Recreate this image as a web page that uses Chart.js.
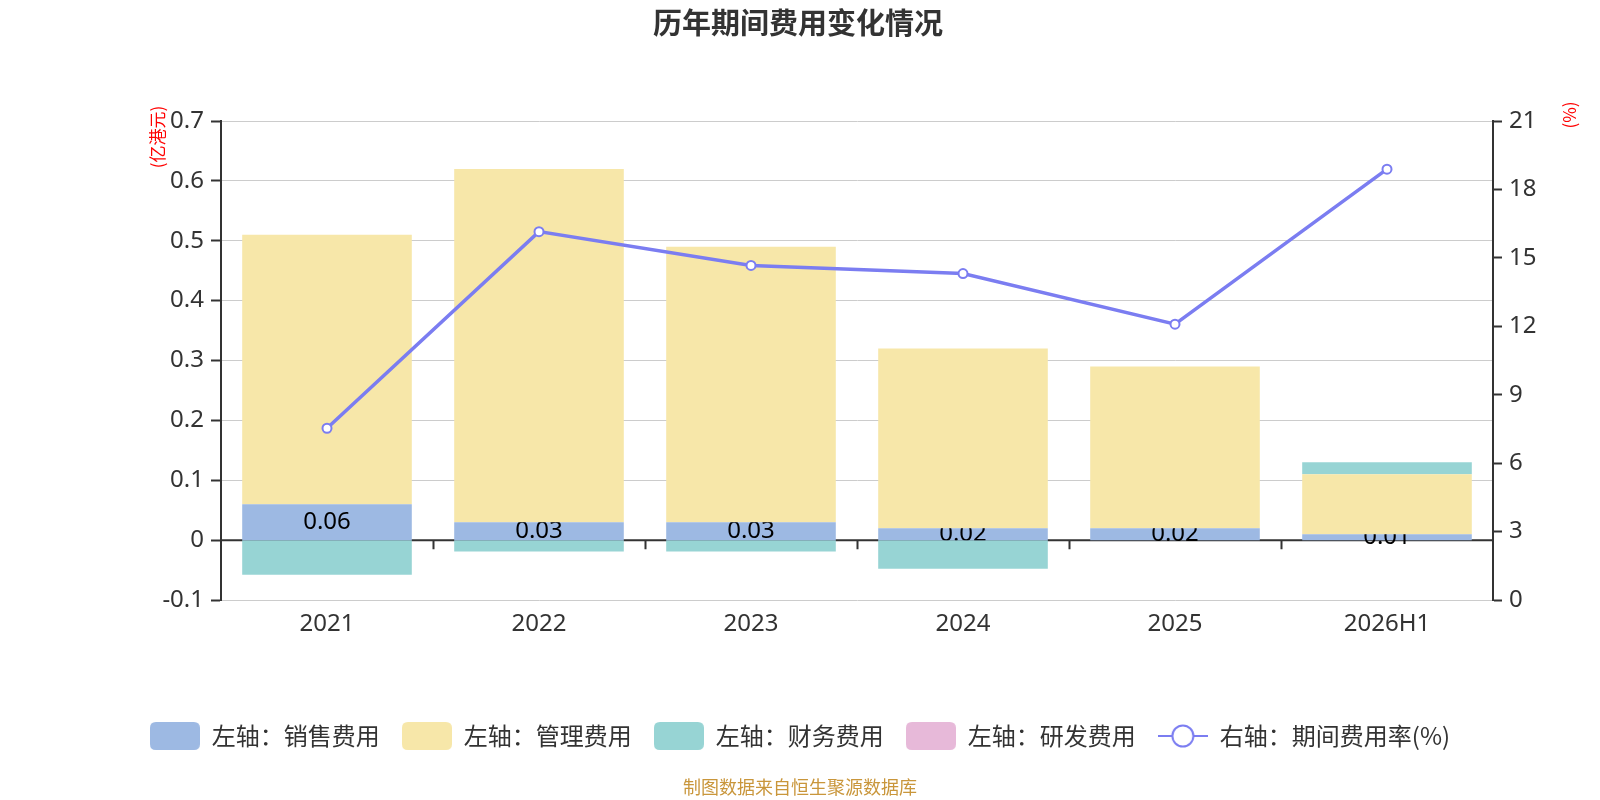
<!DOCTYPE html>
<html>
<head>
<meta charset="utf-8">
<script src="https://cdn.jsdelivr.net/npm/chart.js@4"></script>
<style>
  html, body { margin: 0; padding: 0; background: #fff; }
  #wrap { width: 1600px; height: 800px; position: relative; }
</style>
</head>
<body>
<div id="wrap"><canvas id="c" width="1600" height="800"></canvas></div>
<script>
// ---- data ----
const categories = ['2021', '2022', '2023', '2024', '2025', '2026H1'];
const salesExp   = [0.06, 0.03, 0.03, 0.02, 0.02, 0.01];
const adminExp   = [0.45, 0.59, 0.46, 0.30, 0.27, 0.10];
const financeExp = [-0.058, -0.019, -0.019, -0.048, 0, 0.02];
const rdExp      = [0, 0, 0, 0, 0, 0];
const expenseRate = [7.53, 16.15, 14.67, 14.31, 12.09, 18.89];
const seriesNames = ['左轴：销售费用', '左轴：管理费用', '左轴：财务费用', '左轴：研发费用', '右轴：期间费用率(%)'];
const leftAxisRange = [-0.1, 0.7, 0.1];
const rightAxisRange = [0, 21, 3];
const titleText = '历年期间费用变化情况';
const leftUnit = '(亿港元)';
const rightUnit = '(%)';
const footerText = '制图数据来自恒生聚源数据库';

// ---- styles ----
const COLORS = ['#9db9e3', '#f7e7a9', '#97d4d4', '#e7b9d9'];
const LINE_COLOR = '#7b7df1';
const FONT = '"Noto Sans", "Noto Sans CJK SC", sans-serif';
const CJK = '"Noto Sans CJK SC", "Noto Sans", sans-serif';

function boxImage(color) {
  const c = document.createElement('canvas');
  c.width = 50; c.height = 28;
  const x = c.getContext('2d');
  x.fillStyle = color;
  const r = 6;
  x.beginPath();
  x.moveTo(r, 0); x.lineTo(50 - r, 0); x.quadraticCurveTo(50, 0, 50, r);
  x.lineTo(50, 28 - r); x.quadraticCurveTo(50, 28, 50 - r, 28);
  x.lineTo(r, 28); x.quadraticCurveTo(0, 28, 0, 28 - r);
  x.lineTo(0, r); x.quadraticCurveTo(0, 0, r, 0);
  x.fill();
  return c;
}
function lineImage(color) {
  const c = document.createElement('canvas');
  c.width = 50; c.height = 28;
  const x = c.getContext('2d');
  x.strokeStyle = color; x.lineWidth = 2;
  x.beginPath(); x.moveTo(0, 14); x.lineTo(50, 14); x.stroke();
  x.fillStyle = '#fff';
  x.beginPath(); x.arc(25, 14, 10.5, 0, Math.PI * 2); x.fill(); x.stroke();
  return c;
}
const legendImages = [boxImage(COLORS[0]), boxImage(COLORS[1]), boxImage(COLORS[2]), boxImage(COLORS[3]), lineImage(LINE_COLOR)];

const barDs = (label, data, color) => ({
  type: 'bar', label, data, backgroundColor: color, borderWidth: 0,
  yAxisID: 'y', stack: 's', categoryPercentage: 0.8, barPercentage: 1.0
});

const decorPlugin = {
  id: 'decor',
  beforeDatasetsDraw(chart) {
    const {ctx, chartArea: a, scales: {y}} = chart;
    const zy = y.getPixelForValue(0);
    ctx.save();
    ctx.strokeStyle = '#333';
    ctx.lineWidth = 2;
    ctx.beginPath();
    ctx.moveTo(a.left, zy); ctx.lineTo(a.right, zy);
    const step = a.width / categories.length;
    for (let k = 1; k < categories.length; k++) {
      const px = Math.round(a.left + k * step) + 0.5;
      ctx.moveTo(px, zy); ctx.lineTo(px, zy + 9);
    }
    ctx.stroke();
    ctx.restore();
  },
  afterDatasetDraw(chart, args) {
    if (args.index !== 0) return;
    const {ctx, chartArea: a, scales: {y}} = chart;
    const zy = y.getPixelForValue(0);
    const meta = chart.getDatasetMeta(0);
    meta.data.forEach((bar, i) => {
      const top = Math.min(bar.y, bar.base);
      const bottom = financeExp[i] < 0 ? zy : a.bottom;
      const cy = (bar.y + bar.base) / 2;
      ctx.save();
      ctx.beginPath();
      ctx.rect(a.left, top, a.width, bottom - top);
      ctx.clip();
      ctx.fillStyle = '#000';
      ctx.font = '24px ' + FONT;
      ctx.textAlign = 'center';
      ctx.textBaseline = 'middle';
      ctx.fillText(salesExp[i].toFixed(2), bar.x, cy);
      ctx.restore();
    });
  },
  afterDraw(chart) {
    const {ctx} = chart;
    ctx.save();
    ctx.textAlign = 'center';
    ctx.textBaseline = 'middle';
    ctx.fillStyle = '#333';
    ctx.font = 'bold 29px ' + CJK;
    ctx.fillText(titleText, 798, 23);
    ctx.fillStyle = '#c9963b';
    ctx.font = '18px ' + CJK;
    ctx.fillText(footerText, 800, 787);
    ctx.fillStyle = '#ff0000';
    ctx.font = '17px ' + CJK;
    ctx.save();
    ctx.translate(158, 137);
    ctx.rotate(-Math.PI / 2);
    ctx.fillText(leftUnit, 0, 0);
    ctx.restore();
    ctx.save();
    ctx.translate(1570, 115);
    ctx.rotate(-Math.PI / 2);
    ctx.fillText(rightUnit, 0, 0);
    ctx.restore();
    ctx.restore();
  }
};

new Chart(document.getElementById('c'), {
  data: {
    labels: categories,
    datasets: [
      barDs(seriesNames[0], salesExp, COLORS[0]),
      barDs(seriesNames[1], adminExp, COLORS[1]),
      barDs(seriesNames[2], financeExp, COLORS[2]),
      barDs(seriesNames[3], rdExp, COLORS[3]),
      {
        type: 'line', label: seriesNames[4], data: expenseRate, yAxisID: 'y1', order: -1,
        borderColor: LINE_COLOR, borderWidth: 3.5, tension: 0,
        pointRadius: 4.5, pointBorderWidth: 2, pointBackgroundColor: '#fff', pointBorderColor: LINE_COLOR
      }
    ]
  },
  options: {
    responsive: false,
    animation: false,
    layout: { padding: { top: 121, left: 0, right: 0, bottom: 42 } },
    plugins: {
      tooltip: { enabled: false },
      title: { display: false },
      legend: {
        position: 'bottom',
        labels: {
          usePointStyle: true,
          pointStyleWidth: 50,
          boxHeight: 24,
          padding: 22,
          color: '#333',
          font: { size: 24, family: CJK },
          generateLabels(chart) {
            return chart.data.datasets.map((ds, i) => ({
              text: ds.label, datasetIndex: i, pointStyle: legendImages[i],
              fillStyle: '#fff', strokeStyle: '#fff', lineWidth: 0, hidden: false, fontColor: '#333'
            }));
          }
        }
      }
    },
    scales: {
      x: {
        stacked: true,
        grid: { display: false, drawTicks: false },
        border: { display: false },
        ticks: { color: '#333', font: { size: 24, family: FONT }, padding: 10 },
        afterFit(scale) { scale.height = 800 - 42 - scale.chart.legend.height - 600; }
      },
      y: {
        position: 'left', stacked: true,
        min: leftAxisRange[0], max: leftAxisRange[1],
        ticks: {
          stepSize: leftAxisRange[2], color: '#333', font: { size: 24, family: FONT }, padding: 7,
          callback: (v) => String(Number(Number(v).toFixed(1)) || 0)
        },
        grid: { color: '#cccccc', lineWidth: 1, tickColor: '#333', tickLength: 10, tickWidth: 2 },
        border: { display: true, color: '#333', width: 2 },
        afterFit(scale) { scale.width = 221; }
      },
      y1: {
        position: 'right',
        min: rightAxisRange[0], max: rightAxisRange[1],
        ticks: { stepSize: rightAxisRange[2], color: '#333', font: { size: 24, family: FONT }, padding: 7 },
        grid: { drawOnChartArea: false, tickColor: '#333', tickLength: 9, tickWidth: 2 },
        border: { display: true, color: '#333', width: 2 },
        afterFit(scale) { scale.width = 107; }
      }
    }
  },
  plugins: [decorPlugin]
});
</script>
</body>
</html>
